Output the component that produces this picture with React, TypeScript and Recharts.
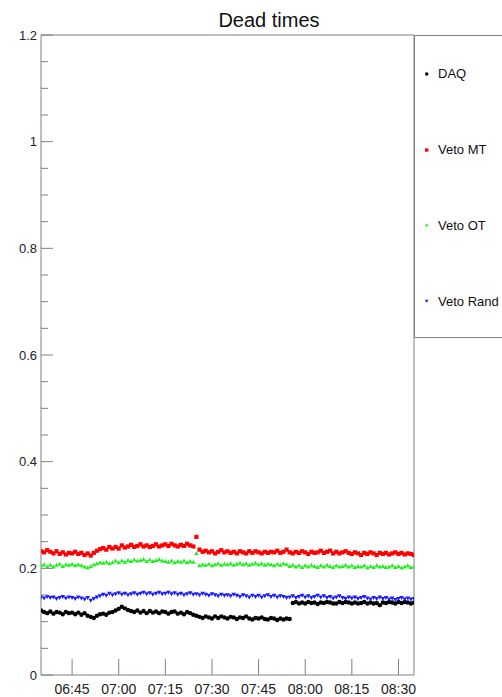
import React from "react";
import { ScatterChart, Scatter, XAxis, YAxis, ReferenceLine, Legend } from "recharts";

// minutes since 06:35
const timeMin = [
    0, 1, 2, 3, 4, 5, 6, 7, 8, 9, 10, 11, 12, 13, 14, 15, 16, 17, 18, 19,
    20, 21, 22, 23, 24, 25, 26, 27, 28, 29, 30, 31, 32, 33, 34, 35, 36, 37, 38, 39,
    40, 41, 42, 43, 44, 45, 46, 47, 48, 49, 50, 51, 52, 53, 54, 55, 56, 57, 58, 59,
    60, 61, 62, 63, 64, 65, 66, 67, 68, 69, 70, 71, 72, 73, 74, 75, 76, 77, 78, 79,
    80, 81, 82, 83, 84, 85, 86, 87, 88, 89, 90, 91, 92, 93, 94, 95, 96, 97, 98, 99,
    100, 101, 102, 103, 104, 105, 106, 107, 108, 109, 110, 111, 112, 113, 114, 115, 116, 117, 118, 119,
    120,
];

const daq = [
    0.121, 0.118, 0.116, 0.119, 0.115, 0.118, 0.117, 0.114, 0.118, 0.116,
    0.117, 0.114, 0.117, 0.113, 0.116, 0.111, 0.109, 0.107, 0.111, 0.114,
    0.115, 0.113, 0.117, 0.118, 0.121, 0.124, 0.128, 0.125, 0.122, 0.120,
    0.118, 0.121, 0.117, 0.120, 0.116, 0.120, 0.117, 0.119, 0.116, 0.119,
    0.118, 0.115, 0.118, 0.119, 0.115, 0.117, 0.114, 0.118, 0.116, 0.113,
    0.111, 0.109, 0.107, 0.110, 0.108, 0.106, 0.110, 0.107, 0.110, 0.108,
    0.106, 0.109, 0.108, 0.105, 0.108, 0.107, 0.110, 0.106, 0.104, 0.107,
    0.106, 0.108, 0.105, 0.104, 0.107, 0.106, 0.103, 0.106, 0.104, 0.106,
    0.105,
    0.135, 0.137, 0.134, 0.136, 0.134, 0.137, 0.135, 0.136, 0.133, 0.136,
    0.135, 0.137, 0.136, 0.134, 0.134, 0.137, 0.135, 0.137, 0.136, 0.134,
    0.136, 0.134, 0.135, 0.137, 0.134, 0.136, 0.134, 0.135, 0.131, 0.136,
    0.135, 0.137, 0.136, 0.134, 0.137, 0.135, 0.137, 0.136, 0.134, 0.136,
];

const vetoMT = [
    0.232, 0.230, 0.234, 0.231, 0.228, 0.232, 0.227, 0.230, 0.226, 0.229,
    0.228, 0.231, 0.227, 0.229, 0.225, 0.228, 0.224, 0.229, 0.233, 0.236,
    0.238, 0.235, 0.240, 0.237, 0.240, 0.237, 0.243, 0.239, 0.241, 0.244,
    0.240, 0.242, 0.245, 0.241, 0.243, 0.240, 0.242, 0.245, 0.241, 0.243,
    0.245, 0.242, 0.246, 0.243, 0.241, 0.244, 0.242, 0.246, 0.243, 0.241,
    0.259,
    0.235, 0.231, 0.233, 0.230, 0.232, 0.228, 0.231, 0.234, 0.230,
    0.232, 0.229, 0.231, 0.228, 0.232, 0.230, 0.228, 0.232, 0.229, 0.232,
    0.230, 0.228, 0.231, 0.229, 0.231, 0.230, 0.233, 0.229, 0.231, 0.235,
    0.230, 0.228, 0.231, 0.229, 0.232, 0.230, 0.227, 0.231, 0.229, 0.230,
    0.233, 0.229, 0.231, 0.233, 0.228, 0.231, 0.228, 0.230, 0.232, 0.229,
    0.227, 0.230, 0.228, 0.225, 0.229, 0.227, 0.230, 0.228, 0.225, 0.229,
    0.227, 0.229, 0.226, 0.228, 0.230, 0.227, 0.229, 0.226, 0.228, 0.227, 0.225,
];

const vetoOT = [
    0.205, 0.207, 0.203, 0.206, 0.203, 0.206, 0.208, 0.204, 0.207, 0.206,
    0.208, 0.205, 0.207, 0.205, 0.203, 0.201, 0.204, 0.207, 0.209, 0.211,
    0.210, 0.212, 0.209, 0.211, 0.214, 0.211, 0.214, 0.212, 0.215, 0.213,
    0.216, 0.214, 0.215, 0.217, 0.213, 0.216, 0.213, 0.215, 0.217, 0.214,
    0.213, 0.212, 0.214, 0.211, 0.213, 0.212, 0.214, 0.211, 0.213, 0.212,
    0.228,
    0.205, 0.207, 0.206, 0.208, 0.205, 0.207, 0.209, 0.206, 0.208,
    0.207, 0.209, 0.206, 0.208, 0.210, 0.207, 0.209, 0.206, 0.208, 0.210,
    0.207, 0.209, 0.206, 0.208, 0.207, 0.205, 0.208, 0.206, 0.209, 0.207,
    0.204, 0.206, 0.203, 0.205, 0.202, 0.205, 0.203, 0.206, 0.204, 0.202,
    0.205, 0.203, 0.206, 0.204, 0.202, 0.205, 0.203, 0.204, 0.206, 0.203,
    0.205, 0.202, 0.204, 0.203, 0.205, 0.201, 0.204, 0.202, 0.205, 0.203,
    0.204, 0.202, 0.203, 0.205, 0.202, 0.204, 0.201, 0.203, 0.205, 0.202, 0.203,
];

const vetoRand = [
    0.146, 0.144, 0.147, 0.145, 0.146, 0.143, 0.145, 0.147, 0.144, 0.146,
    0.145, 0.143, 0.146, 0.144, 0.142, 0.145, 0.140, 0.143, 0.146, 0.148,
    0.151, 0.149, 0.153, 0.150, 0.152, 0.154, 0.151, 0.153, 0.150, 0.152,
    0.154, 0.151, 0.153, 0.155, 0.152, 0.154, 0.151, 0.153, 0.155, 0.152,
    0.153, 0.155, 0.152, 0.154, 0.151, 0.153, 0.150, 0.152, 0.154, 0.151,
    0.152, 0.150, 0.153, 0.151, 0.149, 0.152, 0.150, 0.148, 0.151, 0.149,
    0.150, 0.148, 0.151, 0.149, 0.147, 0.150, 0.148, 0.146, 0.149, 0.147,
    0.149, 0.146, 0.148, 0.150, 0.147, 0.149, 0.146, 0.148, 0.147, 0.145,
    0.146, 0.148, 0.145, 0.147, 0.149, 0.146, 0.148, 0.145, 0.147, 0.149,
    0.146, 0.148, 0.145, 0.147, 0.144, 0.146, 0.148, 0.145, 0.143, 0.146,
    0.144, 0.146, 0.143, 0.145, 0.147, 0.144, 0.142, 0.145, 0.143, 0.146,
    0.143, 0.145, 0.142, 0.144, 0.141, 0.143, 0.145, 0.142, 0.144, 0.142, 0.143,
];

const xTicks = [10, 25, 40, 55, 70, 85, 100, 115];
const xTickLabels = ["06:45", "07:00", "07:15", "07:30", "07:45", "08:00", "08:15", "08:30"];

const yMajor = [0, 0.2, 0.4, 0.6, 0.8, 1, 1.2];
const yLabels = ["0", "0.2", "0.4", "0.6", "0.8", "1", "1.2"];
const yMinor = [
    0.05, 0.1, 0.15, 0.25, 0.3, 0.35, 0.45, 0.5, 0.55, 0.65, 0.7, 0.75,
    0.85, 0.9, 0.95, 1.05, 1.1, 1.15,
];

const seriesNames = ["DAQ", "Veto MT", "Veto OT", "Veto Rand"];
const seriesColors = ["#000000", "#ff0000", "#22ee22", "#1a1aff"];
const seriesShapes = ["dot", "square", "up", "down"];
const seriesValues = [daq, vetoMT, vetoOT, vetoRand];

const FONT = '"Liberation Sans", Arial, Helvetica, sans-serif';
const AXIS = "#808080";

const drawMarker = (kind: string, cx: number, cy: number, color: string, s = 1) => {
    if (kind === "dot") return <circle cx={cx} cy={cy} r={2.2 * s} fill={color} />;
    if (kind === "square")
        return <rect x={cx - 2.1 * s} y={cy - 2.1 * s} width={4.2 * s} height={4.2 * s} fill={color} />;
    if (kind === "up")
        return (
            <polygon
                points={`${cx - 2.3 * s},${cy + 1.7 * s} ${cx + 2.3 * s},${cy + 1.7 * s} ${cx},${cy - 2.3 * s}`}
                fill={color}
            />
        );
    return (
        <polygon
            points={`${cx - 2.3 * s},${cy - 1.7 * s} ${cx + 2.3 * s},${cy - 1.7 * s} ${cx},${cy + 2.3 * s}`}
            fill={color}
        />
    );
};

const YTick = (props: any) => {
    const { x, y, payload } = props;
    const axisX = x + 4;
    const idx = yMajor.findIndex((m) => Math.abs(m - payload.value) < 1e-6);
    const major = idx >= 0;
    return (
        <g>
            <line x1={axisX} x2={axisX + (major ? 12 : 7)} y1={y} y2={y} stroke={AXIS} />
            {major && (
                <text x={x} y={y} dy="0.36em" textAnchor="end" fontSize={13} fill="#222" fontFamily={FONT}>
                    {yLabels[idx]}
                </text>
            )}
        </g>
    );
};

const XTick = (props: any) => {
    const { x, y, payload } = props;
    const idx = xTicks.indexOf(payload.value);
    return (
        <g>
            <line x1={x} x2={x} y1={y} y2={y - 16} stroke={AXIS} />
            <text x={x} y={y + 19} textAnchor="middle" fontSize={14} fill="#222" fontFamily={FONT}>
                {xTickLabels[idx]}
            </text>
        </g>
    );
};

const LegendBox = () => (
    <div
        style={{
            width: 88,
            height: 303,
            boxSizing: "border-box",
            borderTop: `1px solid ${AXIS}`,
            borderLeft: `1px solid ${AXIS}`,
            borderBottom: `1px solid ${AXIS}`,
            position: "relative",
            overflow: "hidden",
            fontFamily: FONT,
            background: "#fff",
        }}
    >
        {seriesNames.map((name, i) => (
            <div
                key={name}
                style={{
                    position: "absolute",
                    left: 0,
                    top: ((i + 0.5) * 303) / 4 - 9,
                    height: 18,
                    display: "flex",
                    alignItems: "center",
                    whiteSpace: "nowrap",
                }}
            >
                <svg width={23} height={18} style={{ display: "block" }}>
                    {drawMarker(seriesShapes[i], 11.7, 9, seriesColors[i], 0.8)}
                </svg>
                <span style={{ fontSize: 13, color: "#111" }}>{name}</span>
            </div>
        ))}
    </div>
);

export default function App() {
    const seriesData = seriesValues.map((vals) => timeMin.map((t, i) => ({ t, v: vals[i] })));

    return (
        <div style={{ position: "absolute", left: 0, top: 0, width: 502, height: 697, background: "#fff" }}>
            <div
                style={{
                    position: "absolute",
                    left: 169,
                    top: 8,
                    width: 200,
                    textAlign: "center",
                    fontFamily: FONT,
                    fontSize: 20,
                    lineHeight: "24px",
                    color: "#111",
                    zIndex: 2,
                }}
            >
                Dead times
            </div>
            <ScatterChart width={502} height={697} margin={{ top: 35, right: 88, bottom: 0, left: 0 }}>
                <XAxis
                    type="number"
                    dataKey="t"
                    domain={[0, 120]}
                    ticks={xTicks}
                    interval={0}
                    height={22}
                    tickSize={0}
                    tickMargin={0}
                    tick={<XTick />}
                    axisLine={{ stroke: AXIS }}
                    tickLine={false}
                    allowDataOverflow
                />
                <YAxis
                    type="number"
                    dataKey="v"
                    domain={[0, 1.2]}
                    ticks={[...yMajor, ...yMinor]}
                    interval={0}
                    width={41}
                    tickSize={0}
                    tickMargin={4}
                    tick={<YTick />}
                    axisLine={{ stroke: AXIS }}
                    tickLine={false}
                    allowDataOverflow
                />
                <ReferenceLine y={1.2} stroke={AXIS} />
                <ReferenceLine x={120} stroke={AXIS} />
                {seriesData.map((d, i) => (
                    <Scatter
                        key={seriesNames[i]}
                        name={seriesNames[i]}
                        data={d}
                        fill={seriesColors[i]}
                        isAnimationActive={false}
                        shape={(p: any) => drawMarker(seriesShapes[i], p.cx, p.cy, seriesColors[i])}
                    />
                ))}
                <Legend
                    layout="vertical"
                    align="center"
                    verticalAlign="middle"
                    wrapperStyle={{ left: 414, top: 35, width: 88, height: 303 }}
                    content={() => <LegendBox />}
                />
            </ScatterChart>
        </div>
    );
}
